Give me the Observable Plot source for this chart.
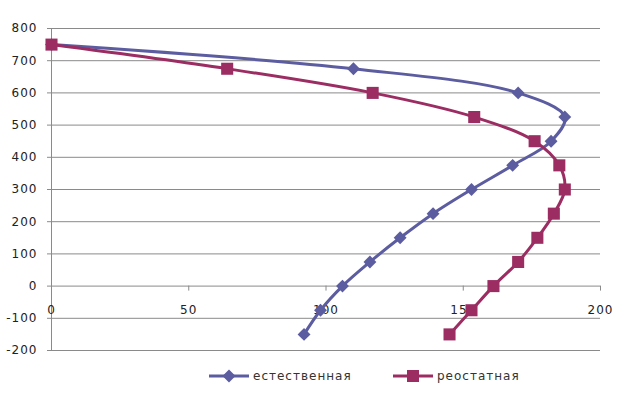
<!DOCTYPE html>
<html>
<head>
<meta charset="utf-8">
<script src="https://cdn.jsdelivr.net/npm/d3@7"></script>
<script src="https://cdn.jsdelivr.net/npm/@observablehq/plot@0.6"></script>
<style>
  body { margin: 0; background: #fff; font-family: "DejaVu Sans", sans-serif; }
  #legend { position: relative; height: 36px; font-size: 12px; letter-spacing: 1px; color: #333; }
  .item { display: flex; align-items: center; position: absolute; top: 10px; }
  .item svg { margin-right: 4px; }
</style>
</head>
<body>
<div id="chart"></div>
<div id="legend"></div>
<script>
const yValues = [750, 675, 600, 525, 450, 375, 300, 225, 150, 75, 0, -75, -150];
const naturalX = [0, 110, 170, 187, 182, 168, 153, 139, 127, 116, 106, 98, 92];
const rheostatX = [0, 64, 117, 154, 176, 185, 187, 183, 177, 170, 161, 153, 145];
const seriesNames = ["естественная", "реостатная"];
const seriesColors = ["#5C5CA0", "#9B2D63"];
const xTicks = [0, 50, 100, 150, 200];
const yTicks = [-200, -100, 0, 100, 200, 300, 400, 500, 600, 700, 800];

const natural = yValues.map((y, i) => ({x: naturalX[i], y}));
const rheostat = yValues.map((y, i) => ({x: rheostatX[i], y}));

const chart = Plot.plot({
  width: 623,
  height: 358,
  marginLeft: 51,
  marginRight: 23,
  marginTop: 28,
  marginBottom: 8,
  style: {fontFamily: "DejaVu Sans, sans-serif", fontSize: "12px", color: "#222", letterSpacing: "1px"},
  x: {domain: [0, 200], axis: null},
  y: {domain: [-200, 800]},
  marks: [
    Plot.gridY(yTicks, {stroke: "#8a8a8a", strokeOpacity: 1, strokeWidth: 1}),
    Plot.axisY(yTicks, {tickSize: 4, tickPadding: 10, tickFormat: d => String(d), stroke: "#8a8a8a", fill: "#222", label: null}),
    Plot.ruleX([0], {stroke: "#8a8a8a"}),
    Plot.ruleX(xTicks, {x: d => d, y1: 0, y2: 0, insetBottom: -5, stroke: "#8a8a8a"}),
    Plot.text(xTicks, {x: d => d, y: 0, dy: 24, text: d => String(d), fill: "#222"}),
    Plot.line(natural, {x: "x", y: "y", curve: "catmull-rom", stroke: seriesColors[0], strokeWidth: 3}),
    Plot.dot(natural, {x: "x", y: "y", symbol: "diamond2", r: 5.8, fill: seriesColors[0], stroke: "none"}),
    Plot.line(rheostat, {x: "x", y: "y", curve: "catmull-rom", stroke: seriesColors[1], strokeWidth: 3}),
    Plot.dot(rheostat, {x: "x", y: "y", symbol: "square", r: 6.8, fill: seriesColors[1], stroke: "none"})
  ]
});
document.getElementById("chart").appendChild(chart);

const legend = document.getElementById("legend");
const lefts = [209, 393];
const shapes = [
  c => `<path d="M20,1.5 L26.5,8 L20,14.5 L13.5,8 Z" fill="${c}"/>`,
  c => `<rect x="14" y="2" width="12" height="12" fill="${c}"/>`
];
seriesNames.forEach((name, i) => {
  const item = document.createElement("div");
  item.className = "item";
  item.style.left = lefts[i] + "px";
  item.innerHTML = `<svg width="40" height="16"><line x1="0" x2="40" y1="8" y2="8" stroke="${seriesColors[i]}" stroke-width="3"/>${shapes[i](seriesColors[i])}</svg><span>${name}</span>`;
  legend.appendChild(item);
});
</script>
</body>
</html>
